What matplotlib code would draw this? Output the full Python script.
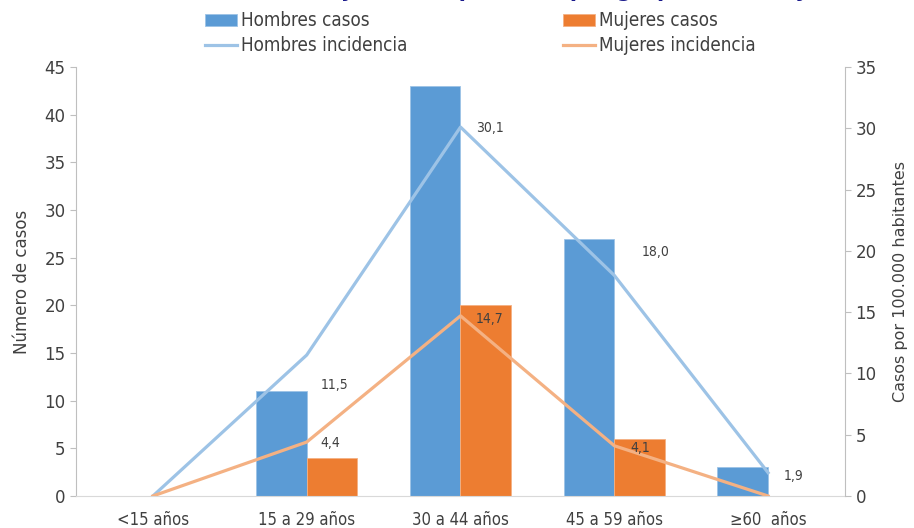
import numpy as np
import matplotlib.pyplot as plt
from matplotlib import font_manager as fm

grupos = ['<15 años', '15 a 29 años', '30 a 44 años', '45 a 59 años', '≥60  años']
hombres_casos = [0, 11, 43, 27, 3]
mujeres_casos = [0, 4, 20, 6, 0]
hombres_inc = [0, 11.5, 30.1, 18.0, 1.9]
mujeres_inc = [0, 4.4, 14.7, 4.1, 0]

# label offsets (pixels) for the rate labels
off_h = [None, (28, -30), (29, -1), (41, 23), (25, -3)]
off_m = [None, (24, -1), (29, -3), (26, -2), None]

grey = '#404040'
axc = '#BFBFBF'

fig = plt.figure(figsize=(9.14, 5.28), dpi=100)
ax = fig.add_axes([76/914, 1-496/528, (845-76)/914, (496-67)/528])
ax2 = ax.twinx()

x = np.arange(len(grupos))
w = 0.33
b1 = ax.bar(x - w/2, hombres_casos, w, color='#5B9BD5', edgecolor='#9DC3E6', linewidth=0.6,
            label='Hombres casos')
b2 = ax.bar(x + w/2, mujeres_casos, w, color='#ED7D31', edgecolor='#F4B183', linewidth=0.6,
            label='Mujeres casos')
l1, = ax2.plot(x, hombres_inc, color='#9DC3E6', lw=2.3, label='Hombres incidencia')
l2, = ax2.plot(x, mujeres_inc, color='#F4B183', lw=2.3, label='Mujeres incidencia')

for vals, offs in [(hombres_inc, off_h), (mujeres_inc, off_m)]:
    for xi, v, o in zip(x, vals, offs):
        if o is None:
            continue
        ax2.annotate(f'{v:.1f}'.replace('.', ','), (xi, v), xytext=o,
                     textcoords='offset pixels', ha='center', va='center',
                     fontsize=10, color=grey, fontstretch='condensed')

ax.set_xlim(-0.5, 4.5)
ax.set_ylim(0, 45)
ax.set_yticks(range(0, 46, 5))
ax2.set_ylim(0, 35)
ax2.set_yticks(range(0, 36, 5))
ax.set_xticks(x)
ax.set_xticklabels(grupos, fontstretch='condensed')

for a in (ax, ax2):
    for s in a.spines.values():
        s.set_visible(False)
    a.tick_params(colors=axc, labelcolor=grey, labelsize=12, length=4, width=0.8)
ax.spines['left'].set_visible(True)
ax.spines['left'].set_color(axc)
ax.spines['bottom'].set_visible(True)
ax.spines['bottom'].set_color('#D9D9D9')
ax2.spines['right'].set_visible(True)
ax2.spines['right'].set_color(axc)
ax.tick_params(axis='x', length=0, labelsize=12, pad=11)

ax.set_ylabel('Número de casos', fontsize=12, color=grey, labelpad=10)
ax2.set_ylabel('Casos por 100.000 habitantes', fontsize=11.5, color=grey, labelpad=12)

fig.legend([b1, l1, b2, l2],
           ['Hombres casos', 'Hombres incidencia', 'Mujeres casos', 'Mujeres incidencia'],
           ncol=2, loc='upper left', bbox_to_anchor=(196/914, 1 - 2/528), frameon=False,
           prop=fm.FontProperties(family='DejaVu Sans', stretch='condensed', size=13.5),
           handlelength=1.7, handleheight=0.65, handletextpad=0.2, columnspacing=8.3,
           labelspacing=0.3, borderpad=0, labelcolor=grey)

fig.text(0.67, 1 + 3/528, 'Casos y tasas específicas por grupo de edad y sexo, 2019 (',
         ha='center', va='baseline', fontsize=15, fontweight='bold', color='#1A1A8C')

fig.savefig('out.png', dpi=100)
